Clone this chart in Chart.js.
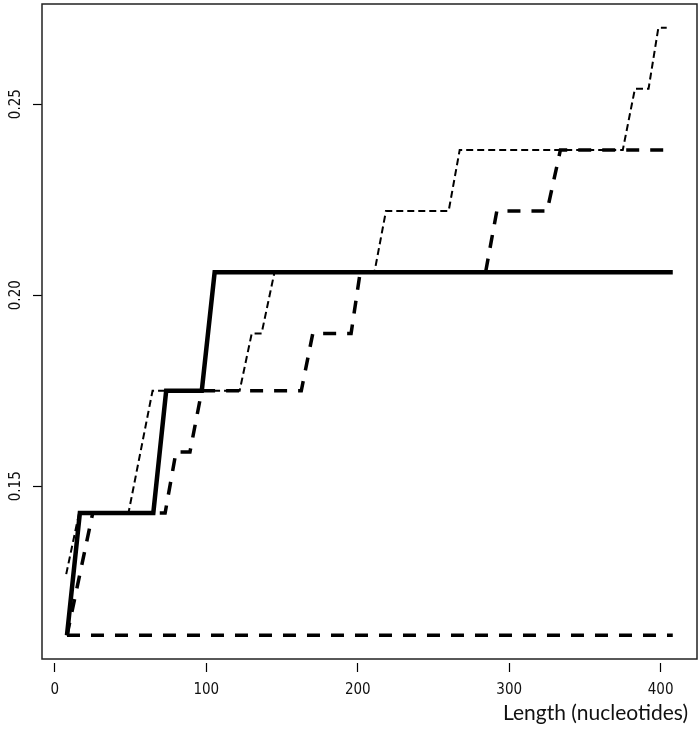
<!DOCTYPE html>
<html>
<head>
<meta charset="utf-8">
<title>Longitud</title>
<script src="https://cdn.jsdelivr.net/npm/chart.js@4/dist/chart.umd.min.js"></script>
<style>
    html, body { margin: 0; padding: 0; background: #ffffff; }
    canvas { display: block; }
</style>
</head>
<body>
<canvas id="grafica" width="700" height="729"></canvas>
<script>
// Datos (longitud en nucleótidos, valor en el eje Y)
const solidaX = [8, 16.5, 65, 73.5, 97, 105.5, 408];
const solidaY = [0.111, 0.143, 0.143, 0.175, 0.175, 0.206, 0.206];

const finaX = [7.5, 16, 48.6, 64.5, 122, 130, 136.5, 145, 211, 218.6, 260, 267.3, 375, 383, 392, 398.5, 404];
const finaY = [0.127, 0.143, 0.143, 0.175, 0.175, 0.190, 0.190, 0.206, 0.206, 0.222, 0.222, 0.238, 0.238, 0.254, 0.254, 0.270, 0.270];

const gruesaX = [8, 25, 72.8, 80, 89.2, 97, 162.7, 170.3, 195.6, 201.6, 284.4, 291.8, 325, 333.8, 408];
const gruesaY = [0.111, 0.143, 0.143, 0.159, 0.159, 0.175, 0.175, 0.190, 0.190, 0.206, 0.206, 0.222, 0.222, 0.238, 0.238];

const baseX = [8, 408];
const baseY = [0.111, 0.111];

const ticksX = [0, 100, 200, 300, 400];
const ticksY = [0.15, 0.20, 0.25];

const tituloX = 'Length (nucleotides)';

// Une dos listas en puntos {x, y}
function puntos(xs, ys) {
    return xs.map((x, i) => ({ x: x, y: ys[i] }));
}

const fuenteEjes = { family: "'Liberation Sans Narrow', 'DejaVu Sans Condensed', 'Liberation Sans', sans-serif", size: 15 };

// Marco del área de trazado y título del eje X
const marco = {
    id: 'marco',
    afterDraw(chart) {
        const { ctx, chartArea } = chart;
        ctx.save();
        ctx.strokeStyle = '#222';
        ctx.lineWidth = 1.5;
        ctx.strokeRect(chartArea.left, chartArea.top, chartArea.right - chartArea.left, chartArea.bottom - chartArea.top);
        ctx.fillStyle = '#111';
        ctx.font = "21px Lato, 'Open Sans', sans-serif";
        ctx.textAlign = 'right';
        ctx.textBaseline = 'alphabetic';
        ctx.fillText(tituloX, 688, 720);
        ctx.restore();
    }
};

function serie(xs, ys, ancho, guiones) {
    return {
        data: puntos(xs, ys),
        borderColor: '#000',
        borderWidth: ancho,
        borderDash: guiones,
        pointRadius: 0,
        tension: 0,
        fill: false
    };
}

const ctx = document.getElementById('grafica').getContext('2d');

new Chart(ctx, {
    type: 'line',
    data: {
        datasets: [
            serie(solidaX, solidaY, 4.5, []),
            serie(gruesaX, gruesaY, 3.5, [13, 11]),
            serie(baseX, baseY, 3.5, [13, 11]),
            serie(finaX, finaY, 2, [7, 4])
        ]
    },
    options: {
        responsive: false,
        animation: false,
        layout: { padding: { top: 4, right: 3, left: 0, bottom: 0 } },
        plugins: {
            legend: { display: false },
            tooltip: { enabled: false }
        },
        scales: {
            x: {
                type: 'linear',
                min: -8.5,
                max: 424,
                afterBuildTicks: (escala) => { escala.ticks = ticksX.map(v => ({ value: v })); },
                afterFit: (escala) => {
                    escala.height = 70;
                    escala.paddingLeft = 0;
                    escala.paddingRight = 0;
                },
                border: { display: false },
                grid: { drawOnChartArea: false, tickLength: 13, tickColor: '#000', tickWidth: 1.2, tickBorderDash: [0, 4, 9] },
                ticks: { font: fuenteEjes, color: '#111', padding: 9, maxRotation: 0, callback: (v) => String(v) }
            },
            y: {
                type: 'linear',
                min: 0.1048,
                max: 0.2762,
                afterBuildTicks: (escala) => { escala.ticks = ticksY.map(v => ({ value: v })); },
                afterFit: (escala) => {
                    escala.width = 42;
                    escala.paddingTop = 0;
                    escala.paddingBottom = 0;
                },
                border: { display: false },
                grid: { drawOnChartArea: false, tickLength: 9, tickColor: '#000', tickWidth: 1.2 },
                ticks: { font: fuenteEjes, color: '#111', padding: 2, minRotation: 90, maxRotation: 90, crossAlign: 'center', callback: (v) => v.toFixed(2) }
            }
        }
    },
    plugins: [marco]
});
</script>
</body>
</html>
